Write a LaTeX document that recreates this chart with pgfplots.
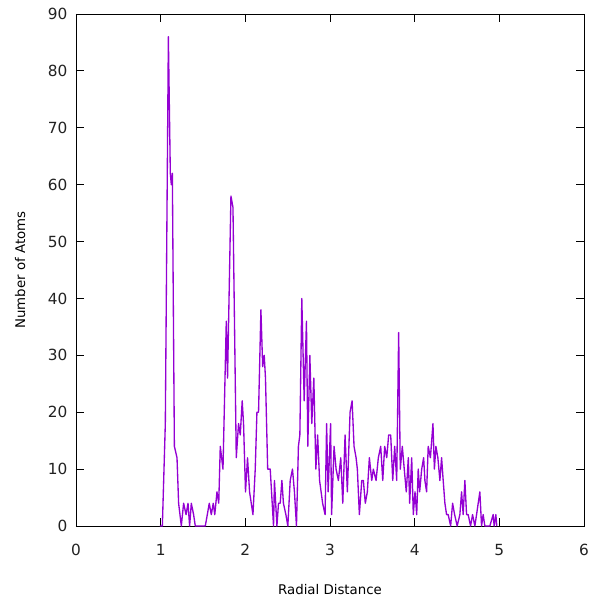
\documentclass[border=0pt]{standalone}
\usepackage{pgfplots}
\pgfplotsset{compat=1.18}
\usepackage{fontspec}
\setmainfont{DejaVu Sans}
\definecolor{gpurple}{HTML}{9400D3}
\definecolor{gtext}{HTML}{222222}
\begin{document}
\begin{tikzpicture}
\begin{axis}[
  scale only axis, width=381pt, height=384pt,
  xmin=0, xmax=6, ymin=0, ymax=90,
  xtick={0,1,2,3,4,5,6}, ytick={0,10,20,30,40,50,60,70,80,90},
  tick align=inside, major tick length=6pt,
  tick style={black, line width=0.6pt},
  axis line style={black, line width=0.6pt},
  /pgf/number format/assume math mode=true,
  tick label style={font=\fontsize{11.5}{13}\selectfont, text=gtext},
  xticklabel style={yshift=-10pt},
  yticklabel style={xshift=-3pt},
  label style={font=\fontsize{11.5}{13}\selectfont, text=gtext},
  xlabel={Radial Distance}, ylabel={Number of Atoms},
  every axis x label/.style={at={(axis description cs:0.5,-0.125)}, anchor=center},
  every axis y label/.style={at={(axis description cs:-0.11,0.5)}, anchor=center, rotate=90},
]
\addplot[gpurple, line width=1pt, line join=round] coordinates {
(0.99,0) (1.002,0) (1.02,0) (1.055,18) (1.091,86) (1.114,62) (1.126,60) (1.138,62)
(1.162,14) (1.193,12) (1.212,4) (1.244,0) (1.271,4) (1.300,2) (1.323,4) (1.342,0)
(1.362,4) (1.389,2) (1.409,0) (1.433,0) (1.527,0) (1.551,2) (1.574,4) (1.598,2)
(1.621,4) (1.639,2) (1.665,6) (1.686,4) (1.704,14) (1.736,10) (1.775,36) (1.790,26)
(1.830,58) (1.854,56) (1.893,12) (1.920,18) (1.940,16) (1.963,22) (1.979,18) (2.002,6)
(2.026,12) (2.050,6) (2.070,4) (2.090,2) (2.117,10) (2.137,20) (2.156,20) (2.184,38)
(2.205,28) (2.223,30) (2.238,26) (2.264,10) (2.294,10) (2.333,0) (2.344,8) (2.373,0)
(2.392,4) (2.412,4) (2.432,8) (2.450,4) (2.479,2) (2.502,0) (2.530,8) (2.557,10)
(2.580,6) (2.604,0) (2.627,14) (2.644,16) (2.667,40) (2.695,22) (2.722,36) (2.738,14)
(2.762,30) (2.785,18) (2.809,26) (2.833,10) (2.854,16) (2.877,8) (2.913,4) (2.942,2)
(2.960,18) (2.978,6) (3.007,18) (3.019,2) (3.048,14) (3.072,10) (3.099,8) (3.127,12)
(3.151,4) (3.178,16) (3.205,6) (3.237,20) (3.261,22) (3.284,14) (3.308,12) (3.323,10)
(3.347,2) (3.375,8) (3.394,8) (3.417,4) (3.441,6) (3.465,12) (3.493,8) (3.512,10)
(3.544,8) (3.571,12) (3.599,14) (3.623,8) (3.646,14) (3.670,12) (3.693,16) (3.717,16)
(3.741,8) (3.764,14) (3.788,8) (3.811,34) (3.830,10) (3.854,14) (3.877,10) (3.901,6)
(3.925,12) (3.941,4) (3.965,12) (3.984,2) (4.004,6) (4.024,2) (4.042,10) (4.059,6)
(4.083,10) (4.106,12) (4.121,8) (4.141,6) (4.160,14) (4.186,12) (4.216,18) (4.233,10)
(4.251,14) (4.274,12) (4.298,8) (4.318,12) (4.337,8) (4.357,4) (4.377,2) (4.396,2)
(4.425,0) (4.448,4) (4.472,2) (4.502,0) (4.534,2) (4.554,6) (4.573,2) (4.593,8)
(4.613,2) (4.632,2) (4.660,0) (4.684,2) (4.711,0) (4.731,2) (4.770,6) (4.790,0)
(4.809,2) (4.829,0) (4.853,0) (4.888,0) (4.927,2) (4.939,0) (4.959,2) (4.970,0)
};
\end{axis}
\pgfresetboundingbox
\path (current axis.south west) ++(-57pt,-57.75pt) coordinate (bbA);
\path (current axis.north east) ++(6pt,10.5pt) coordinate (bbB);
\path (bbA) rectangle (bbB);
\end{tikzpicture}
\end{document}
